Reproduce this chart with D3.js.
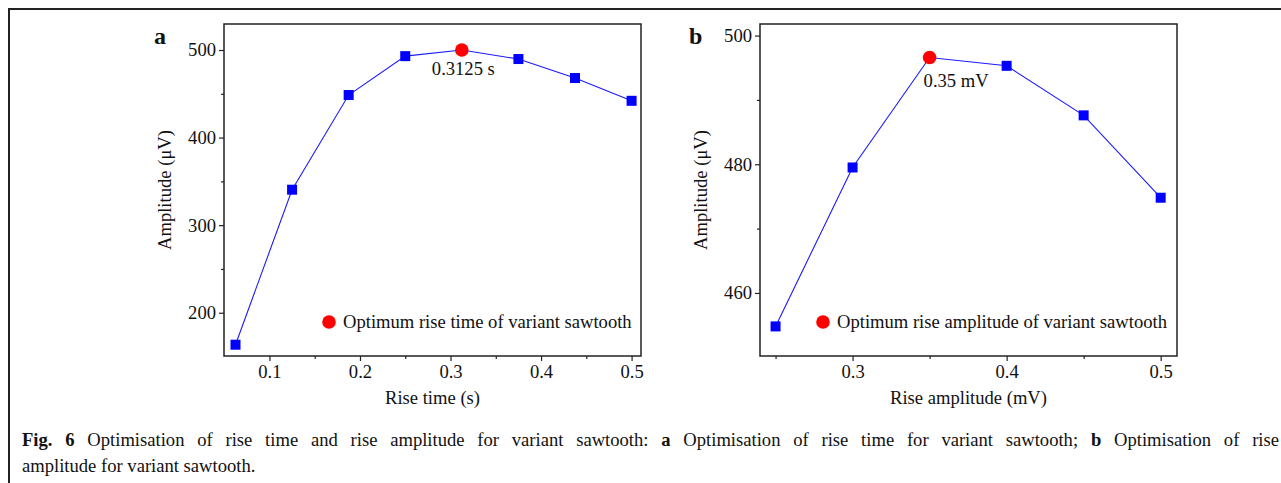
<!DOCTYPE html>
<html>
<head>
<meta charset="utf-8">
<script src="https://cdn.jsdelivr.net/npm/d3@7"></script>
<style>
  html, body { margin: 0; padding: 0; background: #fff; }
  svg { display: block; }
  text { font-family: "Liberation Serif", "Times New Roman", serif; fill: #111; }
</style>
</head>
<body>
<svg id="chart" width="1281" height="483"></svg>
<script>
// ---- Data ----
const riseTime = [0.0625, 0.125, 0.1875, 0.25, 0.3125, 0.375, 0.4375, 0.5];
const ampA = [163.5, 340.5, 448.6, 493, 500, 489.7, 468, 442];
const optimumA = { x: 0.3125, y: 500, label: "0.3125 s" };
const xTicksA = [0.1, 0.2, 0.3, 0.4, 0.5];
const xMinorA = [0.15, 0.25, 0.35, 0.45];
const yTicksA = [200, 300, 400, 500];
const yMinorA = [250, 350, 450];

const riseAmp = [0.25, 0.3, 0.35, 0.4, 0.45, 0.5];
const ampB = [454.8, 479.5, 496.6, 495.3, 487.6, 474.8];
const optimumB = { x: 0.35, y: 496.6, label: "0.35 mV" };
const xTicksB = [0.3, 0.4, 0.5];
const xMinorB = [0.25, 0.35, 0.45];
const yTicksB = [460, 480, 500];
const yMinorB = [470, 490];

const FS = 18.6;
const svg = d3.select("#chart");

// Outer frame
svg.append("path")
  .attr("d", "M9,490 L9,9 L1290,9")
  .attr("fill", "none").attr("stroke", "#222").attr("stroke-width", 2);

function panel(cfg) {
  const g = svg.append("g");
  const x = d3.scaleLinear().domain(cfg.xDomain).range([cfg.left, cfg.right]);
  const y = d3.scaleLinear().domain(cfg.yDomain).range([cfg.bottom, cfg.top]);

  const styleTicks = a => {
    a.select(".domain").remove();
    a.selectAll("line").attr("stroke", "#222").attr("stroke-width", 1.2);
    a.selectAll("text").attr("font-size", FS).attr("fill", "#111")
      .attr("font-family", "Liberation Serif");
  };

  // minor ticks
  g.append("g").attr("transform", `translate(0,${cfg.bottom})`)
    .call(d3.axisBottom(x).tickValues(cfg.xMinor).tickSize(3).tickFormat(""))
    .call(styleTicks);
  g.append("g").attr("transform", `translate(${cfg.left},0)`)
    .call(d3.axisLeft(y).tickValues(cfg.yMinor).tickSize(3).tickFormat(""))
    .call(styleTicks);

  // major ticks
  g.append("g").attr("transform", `translate(0,${cfg.bottom})`)
    .call(d3.axisBottom(x).tickValues(cfg.xTicks).tickSize(5).tickPadding(4)
      .tickFormat(d3.format(".1f")))
    .call(styleTicks);
  g.append("g").attr("transform", `translate(${cfg.left},0)`)
    .call(d3.axisLeft(y).tickValues(cfg.yTicks).tickSize(5).tickPadding(3)
      .tickFormat(d3.format("d")))
    .call(styleTicks);

  // frame
  g.append("rect")
    .attr("x", cfg.left).attr("y", cfg.top)
    .attr("width", cfg.right - cfg.left).attr("height", cfg.bottom - cfg.top)
    .attr("fill", "none").attr("stroke", "#222").attr("stroke-width", 1.5);

  // line
  const pts = cfg.xs.map((d, i) => [d, cfg.ys[i]]);
  g.append("path").datum(pts)
    .attr("d", d3.line().x(d => x(d[0])).y(d => y(d[1])))
    .attr("fill", "none").attr("stroke", "#1a1aff").attr("stroke-width", 1.1);

  // squares
  const s = 10;
  g.selectAll("rect.pt").data(pts.filter(d => d[0] !== cfg.opt.x)).enter()
    .append("rect").attr("class", "pt")
    .attr("x", d => x(d[0]) - s / 2).attr("y", d => y(d[1]) - s / 2)
    .attr("width", s).attr("height", s).attr("fill", "#0000ff");

  // optimum
  g.append("circle").attr("cx", x(cfg.opt.x)).attr("cy", y(cfg.opt.y)).attr("r", 6.8)
    .attr("fill", "#ff0000");
  g.append("text").attr("x", x(cfg.opt.x) + cfg.annDx).attr("y", y(cfg.opt.y) + cfg.annDy)
    .attr("font-size", FS).text(cfg.opt.label);

  // legend
  g.append("circle").attr("cx", cfg.legX).attr("cy", 322).attr("r", 6.8).attr("fill", "#ff0000");
  g.append("text").attr("x", cfg.legX + 14).attr("y", 328).attr("font-size", FS)
    .text(cfg.legText);

  // axis titles
  g.append("text").attr("x", (cfg.left + cfg.right) / 2).attr("y", cfg.bottom + 48)
    .attr("text-anchor", "middle").attr("font-size", FS).text(cfg.xTitle);
  g.append("text")
    .attr("transform", `translate(${cfg.yTitleX},${(cfg.top + cfg.bottom) / 2}) rotate(-90)`)
    .attr("text-anchor", "middle").attr("font-size", FS).text("Amplitude (\u03bcV)");

  // panel letter
  g.append("text").attr("x", cfg.letterX).attr("y", 44).attr("font-size", 24)
    .attr("font-weight", "bold").text(cfg.letter);
}

panel({
  left: 224, right: 641, top: 24, bottom: 356,
  xDomain: [0.0498, 0.5104], yDomain: [150.6, 529.7],
  xs: riseTime, ys: ampA, opt: optimumA,
  xTicks: xTicksA, xMinor: xMinorA, yTicks: yTicksA, yMinor: yMinorA,
  annDx: -30, annDy: 25,
  legX: 329, legText: "Optimum rise time of variant sawtooth",
  xTitle: "Rise time (s)", yTitleX: 171, letter: "a", letterX: 154
});

panel({
  left: 760, right: 1177, top: 24, bottom: 356,
  xDomain: [0.2399, 0.5106], yDomain: [450.2, 501.8],
  xs: riseAmp, ys: ampB, opt: optimumB,
  xTicks: xTicksB, xMinor: xMinorB, yTicks: yTicksB, yMinor: yMinorB,
  annDx: -6, annDy: 30,
  legX: 823, legText: "Optimum rise amplitude of variant sawtooth",
  xTitle: "Rise amplitude (mV)", yTitleX: 707, letter: "b", letterX: 689
});

// caption (justified first line)
const cap1 = svg.append("text").attr("x", 22).attr("y", 446).attr("font-size", FS);
cap1.append("tspan").attr("font-weight", "bold").text("Fig. 6");
cap1.append("tspan").text(" Optimisation of rise time and rise amplitude for variant sawtooth: ");
cap1.append("tspan").attr("font-weight", "bold").text("a");
cap1.append("tspan").text(" Optimisation of rise time for variant sawtooth; ");
cap1.append("tspan").attr("font-weight", "bold").text("b");
cap1.append("tspan").text(" Optimisation of rise");
const natural = cap1.node().getComputedTextLength();
const nSpaces = cap1.text().split(" ").length - 1;
const target = 1279 - 22;
cap1.style("word-spacing", Math.max(0, (target - natural) / nSpaces) + "px");
svg.append("text").attr("x", 22).attr("y", 472).attr("font-size", FS)
  .text("amplitude for variant sawtooth.");
</script>
</body>
</html>
